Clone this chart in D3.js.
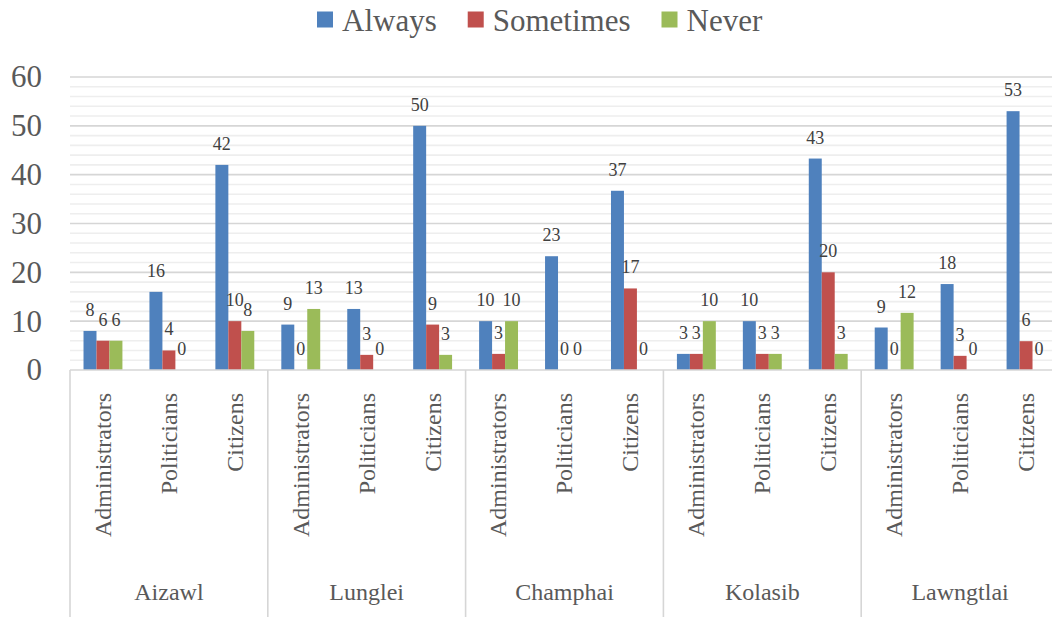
<!DOCTYPE html>
<html>
<head>
<meta charset="utf-8">
<script src="https://cdn.jsdelivr.net/npm/d3@7"></script>
<style>
  html, body { margin: 0; padding: 0; background: #ffffff; }
  svg { display: block; }
  svg text { font-family: 'Liberation Serif', 'Times New Roman', serif; }
</style>
</head>
<body>
<svg id="chart" width="1052" height="617"></svg>
<script>
// Districts (outer category level) and respondent groups (inner level)
const districts = ["Aizawl", "Lunglei", "Champhai", "Kolasib", "Lawngtlai"];
const roles = ["Administrators", "Politicians", "Citizens"];

// Series names
const seriesNames = ["Always", "Sometimes", "Never"];

// Percent of responses, one value per district × role (district-major order)
const always    = [8, 16, 42,   9.3, 12.5, 50,   10, 23.3, 36.7,   3.3, 10, 43.3,   8.7, 17.6, 53];
const sometimes = [6, 4, 10,    0, 3.1, 9.3,     3.3, 0, 16.7,     3.3, 3.3, 20,    0, 2.9, 5.9];
const never     = [6, 0, 8,     12.5, 0, 3.1,    10, 0, 0,         10, 3.3, 3.3,    11.7, 0, 0];

// Value axis ticks
const yTicks = [0, 10, 20, 30, 40, 50, 60];

const colors = ["#4F81BD", "#C0504D", "#9BBB59"];
const seriesValues = [always, sometimes, never];
const FONT = "Liberation Serif";

const svg = d3.select("#chart").attr("font-family", FONT);

const left = 70, right = 1059, baseY = 370, topY = 77;

// Category keys: one per district/role pair
const cats = [];
districts.forEach(d => roles.forEach(r => cats.push(d + "|" + r)));

const x0 = d3.scaleBand().domain(cats).range([left, right])
  .paddingInner(0.41).paddingOuter(0.205);
const x1 = d3.scaleBand().domain(seriesNames).range([0, x0.bandwidth()]);
const xCat = d3.scaleBand().domain(cats).range([left, right]);
const xGroup = d3.scaleBand().domain(districts).range([left, right]);
const y = d3.scaleLinear().domain([0, 60]).range([baseY, topY]);

// Gridlines: minor every 2, major every 10
const minor = d3.range(2, 61, 2).filter(v => v % 10 !== 0);
svg.append("g").selectAll("line").data(minor).join("line")
  .attr("x1", left).attr("x2", 1052)
  .attr("y1", d => y(d)).attr("y2", d => y(d))
  .attr("stroke", "#eeeeee").attr("stroke-width", 1.6);
svg.append("g").selectAll("line").data(yTicks.filter(v => v > 0)).join("line")
  .attr("x1", left).attr("x2", 1052)
  .attr("y1", d => y(d)).attr("y2", d => y(d))
  .attr("stroke", "#d6d6d6").attr("stroke-width", 1.6);

// Value axis labels
const yAxis = svg.append("g")
  .attr("transform", `translate(${left},0)`)
  .call(d3.axisLeft(y).tickValues(yTicks).tickSize(0).tickPadding(28))
  .attr("font-family", FONT);
yAxis.select(".domain").remove();
yAxis.selectAll("text")
  .attr("font-size", 31)
  .attr("fill", "#595959");

// Bars
const rows = cats.map((c, i) => ({ key: c, vals: seriesNames.map((s, k) => ({ s, k, v: seriesValues[k][i] })) }));
const catG = svg.append("g").selectAll("g").data(rows).join("g")
  .attr("transform", d => `translate(${x0(d.key)},0)`);

catG.selectAll("rect").data(d => d.vals).join("rect")
  .attr("x", d => x1(d.s))
  .attr("y", d => y(d.v))
  .attr("width", x1.bandwidth())
  .attr("height", d => baseY - y(d.v))
  .attr("fill", d => colors[d.k]);

// Data labels (outside end, rounded to whole numbers)
catG.selectAll("text").data(d => d.vals).join("text")
  .attr("x", d => x1(d.s) + x1.bandwidth() / 2)
  .attr("y", d => y(d.v) - 15)
  .attr("text-anchor", "middle")
  .attr("font-size", 18)
  .attr("fill", "#404040")
  .text(d => d3.format(".0f")(d.v));

// Category axis baseline and district separators
svg.append("line")
  .attr("x1", left).attr("x2", 1052).attr("y1", baseY).attr("y2", baseY)
  .attr("stroke", "#d6d6d6").attr("stroke-width", 1.6);
const seps = districts.map(d => xGroup(d)).concat([right]);
svg.append("g").selectAll("line").data(seps).join("line")
  .attr("x1", d => d).attr("x2", d => d)
  .attr("y1", baseY).attr("y2", 617)
  .attr("stroke", "#d6d6d6").attr("stroke-width", 1.6);

// Inner level labels (rotated)
const xAxisInner = svg.append("g")
  .attr("transform", `translate(0,${baseY})`)
  .call(d3.axisBottom(xCat).tickSize(0).tickFormat(d => d.split("|")[1]))
  .attr("font-family", FONT);
xAxisInner.select(".domain").remove();
xAxisInner.selectAll("text")
  .attr("transform", "rotate(-90)")
  .attr("x", -23)
  .attr("y", 0)
  .attr("dy", "0.33em")
  .attr("text-anchor", "end")
  .attr("font-size", 24)
  .attr("fill", "#595959");

// Outer level labels (districts)
const xAxisOuter = svg.append("g")
  .attr("transform", `translate(0,${baseY})`)
  .call(d3.axisBottom(xGroup).tickSize(0))
  .attr("font-family", FONT);
xAxisOuter.select(".domain").remove();
xAxisOuter.selectAll("text")
  .attr("y", 230)
  .attr("dy", 0)
  .attr("font-size", 24)
  .attr("fill", "#595959");

// Legend
const legend = svg.append("g");
let lx = 317;
seriesNames.forEach((name, k) => {
  legend.append("rect")
    .attr("x", lx).attr("y", 11.5).attr("width", 16).attr("height", 16)
    .attr("fill", colors[k]);
  const t = legend.append("text")
    .attr("x", lx + 25).attr("y", 31)
    .attr("font-size", 31)
    .attr("fill", "#595959")
    .text(name);
  lx += 25 + t.node().getComputedTextLength() + 31;
});
</script>
</body>
</html>
